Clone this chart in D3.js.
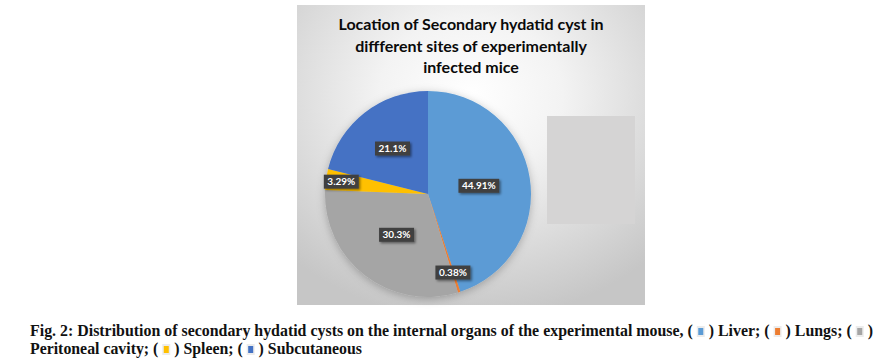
<!DOCTYPE html>
<html><head><meta charset="utf-8">
<script src="https://cdn.jsdelivr.net/npm/d3@7"></script>
<style>body{margin:0;background:#fff;}svg{display:block;}</style>
</head><body>
<svg id="c" width="883" height="361"></svg>
<script>
const categories = ["Liver","Lungs","Peritoneal cavity","Spleen","Subcutaneous"];
const values = [44.91, 0.38, 30.3, 3.29, 21.1];
const labels = ["44.91%","0.38%","30.3%","3.29%","21.1%"];
const colors = ["#5B9BD5","#ED7D31","#A5A5A5","#FFC000","#4472C4"];
const titleLines = ["Location of Secondary hydatid cyst in","diffferent sites of experimentally","infected mice"];
const labelRadius = [0.5, 0.8, 0.5, 0.85, 0.56];

const svg = d3.select("#c");
const defs = svg.append("defs");
const rg = defs.append("radialGradient").attr("id","bg").attr("cx","50%").attr("cy","30%").attr("r","75%");
rg.append("stop").attr("offset","0%").attr("stop-color","#ffffff");
rg.append("stop").attr("offset","35%").attr("stop-color","#f3f3f3");
rg.append("stop").attr("offset","100%").attr("stop-color","#c6c6c6");
const sh = defs.append("filter").attr("id","pshadow").attr("x","-20%").attr("y","-20%").attr("width","140%").attr("height","140%");
sh.append("feDropShadow").attr("dx",0).attr("dy",2).attr("stdDeviation",4).attr("flood-color","#000").attr("flood-opacity",0.25);
const ls = defs.append("filter").attr("id","lshadow").attr("x","-20%").attr("y","-30%").attr("width","150%").attr("height","170%");
ls.append("feDropShadow").attr("dx",1.5).attr("dy",1.5).attr("stdDeviation",0.8).attr("flood-color","#000").attr("flood-opacity",0.45);

// panel
const panel = {x:297, y:5, w:348, h:300};
svg.append("rect").attr("x",panel.x).attr("y",panel.y).attr("width",panel.w).attr("height",panel.h).attr("fill","url(#bg)");
svg.append("rect").attr("x",547).attr("y",116).attr("width",88).attr("height",108).attr("fill","#d5d4d4");

// title
const title = svg.append("text").attr("text-anchor","middle").attr("font-family","Lato, 'Open Sans', sans-serif")
  .attr("font-weight","bold").attr("font-size",16).attr("fill","#0a0a0a");
titleLines.forEach((t,i)=>title.append("tspan").attr("x",471).attr("y",30+i*21.5).text(t));

// pie
const cx = 428, cy = 194, r = 103;
const pie = d3.pie().sort(null).value(d=>d)(values);
const arc = d3.arc().innerRadius(0).outerRadius(r);
const g = svg.append("g").attr("transform",`translate(${cx},${cy})`);
g.append("g").attr("filter","url(#pshadow)").selectAll("path").data(pie).join("path")
  .attr("d",arc).attr("fill",(d,i)=>colors[i]);

const lg = g.append("g").attr("font-family","Lato, 'Open Sans', sans-serif").attr("font-weight","bold").attr("font-size",10);
pie.forEach((d,i)=>{
  const la = d3.arc().innerRadius(r*labelRadius[i]).outerRadius(r*labelRadius[i]);
  const [x,y] = la.centroid(d);
  const gg = lg.append("g").attr("transform",`translate(${x},${y})`);
  const t = gg.append("text").attr("text-anchor","middle").attr("dy","0.35em").attr("fill","#fff").text(labels[i]);
  const w = t.node().getComputedTextLength();
  gg.insert("rect","text").attr("x",-w/2-3.5).attr("y",-7).attr("width",w+7).attr("height",14)
    .attr("fill","#404040").attr("filter","url(#lshadow)");
});

// caption
const capFont = "'Liberation Serif', 'Times New Roman', serif";
const PH = "\u2003";
function caption(y, segs, len){
  const t = svg.append("text").attr("x",30).attr("y",y).attr("font-family",capFont).attr("font-weight","bold")
    .attr("font-size",16).attr("fill","#111").attr("textLength",len).attr("lengthAdjust","spacingAndGlyphs")
    .style("white-space","pre");
  let pos = 0, marks = [];
  segs.forEach(sg=>{
    let s = sg.text;
    if (sg.mark !== undefined) { marks.push({idx: pos + s.length, c: sg.mark}); s += PH; }
    t.append("tspan").text(s);
    pos += s.length;
  });
  marks.forEach(m=>{
    const b = t.node().getExtentOfChar(m.idx);
    const mx = b.x + b.width/2;
    svg.append("rect").attr("x",mx-4).attr("y",y-10).attr("width",8).attr("height",11).attr("fill","#ececec");
    svg.append("rect").attr("x",mx-2.5).attr("y",y-8).attr("width",5).attr("height",7).attr("fill",colors[m.c]);
  });
}
caption(336, [
  {text:"Fig. 2: Distribution of secondary hydatid cysts on the internal organs of the experimental mouse, (", mark:0},
  {text:") "+categories[0]+"; (", mark:1},
  {text:") "+categories[1]+"; (", mark:2},
  {text:")"}], 843);
caption(354, [
  {text:categories[2]+"; (", mark:3},
  {text:") "+categories[3]+"; (", mark:4},
  {text:") "+categories[4]}], 332);
</script>
</body></html>
